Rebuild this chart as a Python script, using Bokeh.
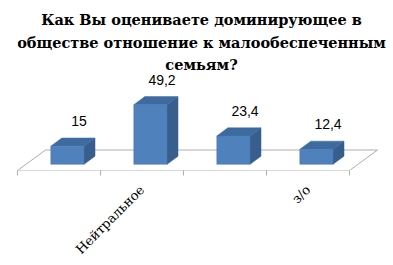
from math import pi

from bokeh.plotting import figure
from bokeh.models import Range1d, FixedTicker, ColumnDataSource
from bokeh.core.properties import value
from bokeh.embed import file_html
from bokeh.resources import INLINE

# --- data -------------------------------------------------------------
categories = ["", "Нейтральное", "", "з/о"]
values = [15, 49.2, 23.4, 12.4]
value_labels = ["15", "49,2", "23,4", "12,4"]
title_lines = [
    "Как Вы оцениваете доминирующее в",
    "обществе отношение к малообеспеченным",
    "семьям?",
]

SERIF = "DejaVu Serif"

# --- projection constants (data units) -------------------------------
PX_PER_CAT = 83.0           # pixels per category slot
PX_PER_VAL = 1.21           # pixels per value unit
FLOOR_DX = 28.0 / PX_PER_CAT
FLOOR_DY = 20.5 / PX_PER_VAL
BAR_FRONT = 0.30            # depth position of bar front face (fraction of floor)
BAR_W = 0.40
BAR_DX = 11.0 / PX_PER_CAT
BAR_DY = 8.2 / PX_PER_VAL

W, H = 393, 265
LEFT, BOTTOM = 17, 95
x_end = (W - LEFT) / PX_PER_CAT
y_end = (H - BOTTOM) / PX_PER_VAL

p = figure(
    width=W, height=H, output_backend="svg", toolbar_location=None,
    x_range=Range1d(0, x_end), y_range=Range1d(0, y_end),
    y_axis_location=None, title=None,
    min_border_left=LEFT, min_border_right=0, min_border_top=0,
    min_border_bottom=BOTTOM,
)
p.grid.visible = False
p.outline_line_color = None
p.background_fill_color = "white"
p.border_fill_color = "white"

n = len(values)

# floor outline
floor_x = [0, n, n + FLOOR_DX, FLOOR_DX, 0]
floor_y = [0, 0, FLOOR_DY, FLOOR_DY, 0]
p.line(floor_x, floor_y, line_color="#ADADAD", line_width=1)

# 3D bars
base = BAR_FRONT * FLOOR_DY
shift = BAR_FRONT * FLOOR_DX
front_xs, front_ys, side_xs, side_ys, top_xs, top_ys = [], [], [], [], [], []
centers = []
for i, v in enumerate(values):
    c = i + 0.5 + shift
    centers.append(c)
    x0, x1 = c - BAR_W / 2, c + BAR_W / 2
    t = base + v
    front_xs.append([x0, x1, x1, x0]); front_ys.append([base, base, t, t])
    side_xs.append([x1, x1 + BAR_DX, x1 + BAR_DX, x1])
    side_ys.append([base, base + BAR_DY, t + BAR_DY, t])
    top_xs.append([x0, x1, x1 + BAR_DX, x0 + BAR_DX])
    top_ys.append([t, t, t + BAR_DY, t + BAR_DY])

p.patches(side_xs, side_ys, fill_color="#375E8D", line_color="#375E8D", line_width=0.5)
p.patches(top_xs, top_ys, fill_color="#3D6A9F", line_color="#3D6A9F", line_width=0.5)
p.patches(front_xs, front_ys, fill_color="#4F81BD", line_color="#4A7AB4", line_width=0.5)

# value labels
lab = ColumnDataSource(dict(
    x=[c + 0.14 for c in centers],
    y=[base + v for v in values],
    text=value_labels,
))
p.text(x="x", y="y", text="text", source=lab, y_offset=-25,
       text_align="center", text_baseline="middle",
       text_font=value("Liberation Sans"), text_font_size="14px",
       text_color="black")

# title
title_px = [19, 41.7, 64.3]
tsrc = ColumnDataSource(dict(
    x=[(201 - LEFT) / PX_PER_CAT] * len(title_lines),
    y=[(H - BOTTOM - py) / PX_PER_VAL for py in title_px],
    text=title_lines,
))
p.text(x="x", y="y", text="text", source=tsrc,
       text_align="center", text_baseline="alphabetic",
       text_font=value(SERIF), text_font_style="bold",
       text_font_size="14.5px", text_color="black")

# category axis: ticks on slot boundaries, labels at slot centres
ax = p.xaxis[0]
ax.ticker = FixedTicker(ticks=[i + 0.5 for i in range(n)],
                        minor_ticks=list(range(n + 1)))
ax.major_label_overrides = {i + 0.5: c for i, c in enumerate(categories)}
ax.major_tick_out = 0
ax.major_tick_in = 0
ax.minor_tick_out = 5
ax.minor_tick_in = 0
ax.minor_tick_line_color = "#ADADAD"
ax.axis_line_color = None
ax.major_label_orientation = pi / 4
ax.major_label_standoff = 12
ax.major_label_text_font = SERIF
ax.major_label_text_font_size = "13px"
ax.major_label_text_color = "black"

open("out.html", "w").write(file_html(p, INLINE))
